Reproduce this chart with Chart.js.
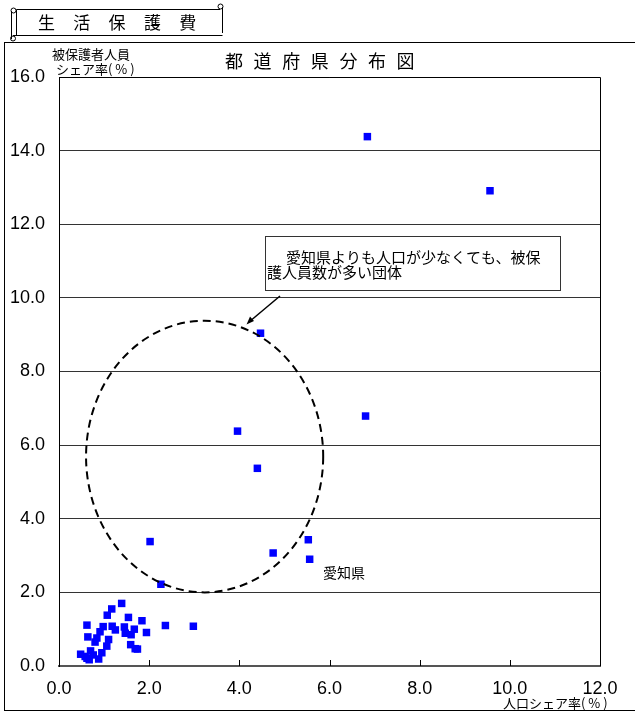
<!DOCTYPE html>
<html>
<head>
<meta charset="utf-8">
<script src="https://cdn.jsdelivr.net/npm/chart.js@4/dist/chart.umd.min.js"></script>
<style>
  body { margin: 0; background: #fff; }
  canvas { display: block; }
</style>
</head>
<body>
<canvas id="pref_chart" width="635" height="713"></canvas>
<script>
// 人口シェア率 (%) / 被保護者人員シェア率 (%)
let popShare = [6.84, 9.56, 4.47, 6.80, 3.96, 4.40, 2.02, 4.75, 5.53, 5.56, 2.26, 2.36, 2.98, 1.84, 1.94,
    1.39, 1.17, 1.07, 1.54, 0.62, 0.98, 1.18, 1.45, 1.67, 0.91, 1.47, 1.60, 0.64, 0.84, 1.10, 0.80,
    1.06, 1.59, 1.69, 1.74, 0.48, 0.70, 0.95, 0.62, 0.67, 0.88, 0.58, 0.76, 1.25];
let welfareShare = [14.38, 12.91, 9.04, 6.79, 6.38, 5.37, 3.38, 3.07, 3.43, 2.90, 2.22, 1.10, 1.08, 1.23, 0.91,
    1.70, 1.55, 1.38, 1.32, 1.11, 1.07, 1.08, 1.06, 1.00, 0.93, 0.89, 0.85, 0.79, 0.76, 0.72, 0.65,
    0.54, 0.58, 0.47, 0.46, 0.32, 0.41, 0.36, 0.21, 0.17, 0.19, 0.26, 0.30, 0.98];

let xTicks = [0, 2, 4, 6, 8, 10, 12];
let yTicks = [0, 2, 4, 6, 8, 10, 12, 14, 16];

let headerText = '生活保護費';
let titleText = '都道府県分布図';
let yTitle = ['被保護者人員', 'シェア率( % )'];
let xTitle = '人口シェア率( % )';
let noteLines = ['愛知県よりも人口が少なくても、被保', '護人員数が多い団体'];
let aichiLabel = '愛知県';

// dashed ring (in data units): centre, radii
let ring = {x: 3.23, y: 5.69, rx: 2.63, ry: 3.69};

const jp = '"Noto Sans CJK JP", sans-serif';
const num = '"Liberation Sans", Arial, sans-serif';

const extras = {
    id: 'extras',
    afterDatasetsDraw(chart) {
        const c = chart.ctx, a = chart.chartArea;
        const xs = chart.scales.x, ys = chart.scales.y;
        c.save();
        c.strokeStyle = '#000';
        c.fillStyle = '#000';

        // outer frame
        c.lineWidth = 1;
        c.strokeRect(4.5, 42.5, 700, 668);

        // header scroll
        c.beginPath();
        c.moveTo(16.5, 9.5); c.lineTo(220, 9.5);
        c.moveTo(222.5, 7); c.lineTo(222.5, 33);
        c.moveTo(13, 35.5); c.lineTo(222.5, 35.5);
        c.moveTo(16.5, 9.5); c.lineTo(16.5, 35.5);
        c.moveTo(11.5, 11); c.lineTo(11.5, 39);
        c.stroke();
        c.beginPath(); c.arc(13.5, 10.5, 2.5, 0, Math.PI * 2); c.stroke();
        c.beginPath(); c.arc(13, 38.5, 2.5, 0, Math.PI * 2); c.stroke();
        c.beginPath(); c.arc(220.5, 6.5, 2.5, 0, Math.PI * 2); c.stroke();
        c.font = '17px ' + jp;
        c.textAlign = 'center';
        c.textBaseline = 'middle';
        headerText.split('').forEach(function(ch, i) { c.fillText(ch, 46.5 + i * 35.3, 23); });

        // plot box top / right
        c.beginPath();
        c.moveTo(a.left, a.top + 0.5); c.lineTo(a.right + 0.5, a.top + 0.5);
        c.lineTo(a.right + 0.5, a.bottom);
        c.stroke();

        // inner x ticks
        xTicks.slice(1, -1).forEach(function(v) {
            const px = Math.round(xs.getPixelForValue(v)) + 0.5;
            c.beginPath(); c.moveTo(px, a.bottom); c.lineTo(px, a.bottom - 6); c.stroke();
        });

        // title
        c.font = '18px ' + jp;
        titleText.split('').forEach(function(ch, i) { c.fillText(ch, 234 + i * 28.6, 61); });

        // axis titles
        c.font = '13px ' + jp;
        c.textAlign = 'left';
        c.fillText(yTitle[0], 52, 54);
        c.fillText(yTitle[1], 56, 69);
        c.fillText(xTitle, 503, 703);

        // Aichi label
        c.font = '14px ' + jp;
        c.fillText(aichiLabel, 323, 573);

        // dashed ring
        c.lineWidth = 2;
        c.setLineDash([8, 5]);
        const cx = xs.getPixelForValue(ring.x), cy = ys.getPixelForValue(ring.y);
        const rx = xs.getPixelForValue(ring.x + ring.rx) - cx;
        const ry = cy - ys.getPixelForValue(ring.y + ring.ry);
        c.beginPath(); c.ellipse(cx, cy, rx, ry, 0, 0, Math.PI * 2); c.stroke();
        c.setLineDash([]);

        // note box
        c.lineWidth = 1;
        c.fillStyle = '#fff';
        c.fillRect(265.5, 236.5, 295, 54);
        c.strokeStyle = '#333';
        c.strokeRect(265.5, 236.5, 295, 54);
        c.fillStyle = '#000';
        c.font = '15px ' + jp;
        c.fillText(noteLines[0], 286, 257);
        c.fillText(noteLines[1], 267, 272);

        // arrow
        c.strokeStyle = '#000';
        c.lineWidth = 1.5;
        c.beginPath(); c.moveTo(280, 296); c.lineTo(249, 322); c.stroke();
        c.beginPath();
        c.moveTo(246.5, 324.5); c.lineTo(250, 316.5); c.lineTo(254, 321); c.closePath();
        c.fill();

        c.restore();
    }
};

let prefScatter = new Chart(document.getElementById('pref_chart'), {
    type: 'scatter',
    data: {
        datasets: [
            {
                label: '都道府県',
                data: popShare.map(function(v, i) { return {x: v, y: welfareShare[i]}; }),
                pointStyle: 'rect',
                pointRadius: 5.3,
                pointHoverRadius: 5.3,
                backgroundColor: '#0000ff',
                borderWidth: 0
            }
        ]
    },
    options: {
        responsive: false,
        animation: false,
        layout: {padding: {top: 77, right: 35, left: 0, bottom: 0}},
        plugins: {legend: {display: false}, tooltip: {enabled: false}},
        scales: {
            x: {
                type: 'linear',
                min: 0, max: 12,
                afterFit: function(s) { s.height = 47; },
                afterBuildTicks: function(s) { s.ticks = xTicks.map(function(v) { return {value: v}; }); },
                ticks: {
                    callback: function(v) { return v.toFixed(1); },
                    font: {family: num, size: 18},
                    color: '#000',
                    padding: 12,
                    maxRotation: 0
                },
                grid: {display: false, drawTicks: false},
                border: {color: '#555', width: 2}
            },
            y: {
                min: 0, max: 16,
                afterFit: function(s) { s.width = 59; },
                afterBuildTicks: function(s) { s.ticks = yTicks.map(function(v) { return {value: v}; }); },
                ticks: {
                    callback: function(v) { return v.toFixed(1); },
                    font: {family: num, size: 18},
                    color: '#000',
                    padding: 14
                },
                grid: {color: '#333', lineWidth: 1, drawTicks: false},
                border: {color: '#000', width: 1}
            }
        }
    },
    plugins: [extras]
});
</script>
</body>
</html>
